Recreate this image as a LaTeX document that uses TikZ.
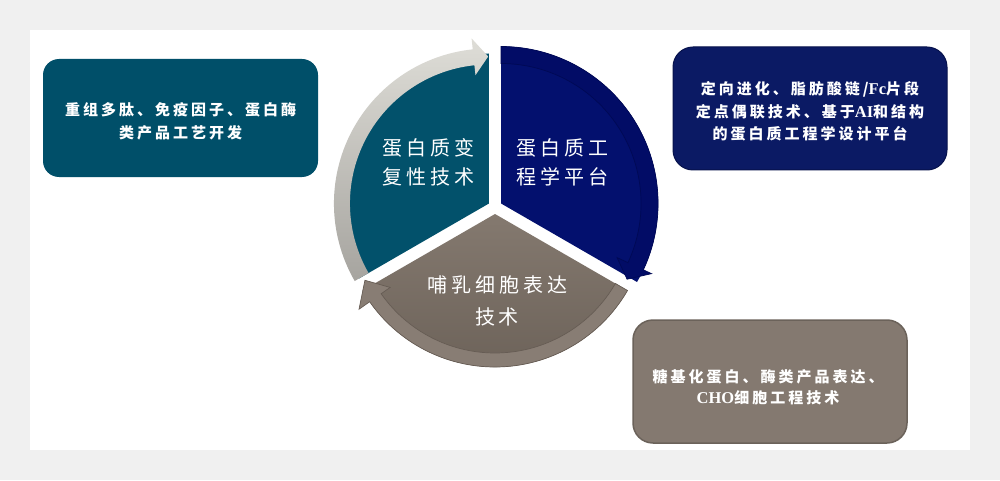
\documentclass[tikz,border=0pt]{standalone}
\usepackage{fontspec}
\newfontfamily\cjk[LetterSpace=20]{Noto Sans CJK SC}
\newfontfamily\ltn{Liberation Serif}
\definecolor{pagebg}{HTML}{F0F0F0}
\definecolor{tealbox}{HTML}{004F69}
\definecolor{tealw}{HTML}{02516B}
\definecolor{navybox}{HTML}{0B1A64}
\definecolor{navyline}{HTML}{07124C}
\definecolor{navyw}{HTML}{03106E}
\definecolor{navyband}{HTML}{020C66}
\definecolor{navydark}{HTML}{000955}
\definecolor{brownbox}{HTML}{847970}
\definecolor{brownline}{HTML}{6B625A}
\definecolor{brownwtop}{HTML}{84796F}
\definecolor{brownwbot}{HTML}{6A6057}
\definecolor{brownband}{HTML}{887D74}
\definecolor{browndark}{HTML}{665C54}
\definecolor{graytop}{HTML}{DEDDD7}
\definecolor{graybot}{HTML}{A6A49F}
\tikzset{
  boxbase/.style={inner sep=0pt},
  boxtxt/.style={text=white, align=center, inner sep=0pt, font=\cjk\bfseries\fontsize{15}{22.5}\selectfont},
  wedgetxt/.style={text=white, align=center, inner sep=0pt, font=\cjk\fontsize{20}{29}\selectfont},
}
\newcommand\ltnb[1]{{\ltn\bfseries\fontsize{16.5}{22.5}\selectfont #1}}
\begin{document}
\begin{tikzpicture}[x=1pt,y=1pt]
\useasboundingbox (0,0) rectangle (1000,480);
\fill[pagebg] (0,0) rectangle (1000,480);
\fill[white] (30,30) rectangle (970,450);

% side boxes
\node[boxbase, fill=tealbox, rounded corners=16pt, minimum width=275pt, minimum height=118pt] (b1) at (180.5,362) {};
\node[boxtxt] (t1) at ([shift={(0,-3.5)}]b1.center) {重组多肽、免疫因子、蛋白酶\\类产品工艺开发};

\node[boxbase, fill=navybox, draw=navyline, line width=1pt, rounded corners=20pt, minimum width=274pt, minimum height=123pt] (b2) at (810,371.5) {};
\node[boxtxt] (t2) at ([shift={(0,-3)}]b2.center) {定向进化、脂肪酸链/\ltnb{Fc}片段\\定点偶联技术、基于\ltnb{AI}和结构\\的蛋白质工程学设计平台};

\node[boxbase, fill=brownbox, draw=brownline, line width=1.5pt, rounded corners=20pt, minimum width=274pt, minimum height=123pt] (b3) at (770,98.5) {};
\node[boxtxt, font=\cjk\bfseries\fontsize{15}{21}\selectfont] (t3) at ([shift={(-2,-6)}]b3.center) {糖基化蛋白、酶类产品表达、\\\ltnb{CHO}细胞工程技术};

% cycle
\begin{scope}[shift={(495,273)}]
  % teal wedge + gray arrow
  \begin{scope}[shift={(150:7)}]
    \fill[tealw] (0,0) -- (90:150) arc[start angle=90, end angle=210, radius=150] -- cycle;
    \shade[top color=graytop, bottom color=graybot]
      (210:155) arc[start angle=210, end angle=96, radius=155]
      -- (96:166) -- (90.3:147) -- (96:129) -- (96:139)
      arc[start angle=96, end angle=210, radius=139] -- cycle;
  \end{scope}
  % navy wedge + arrow
  \begin{scope}[shift={(30:7)}]
    \fill[navyw] (0,0) -- (90:157) arc[start angle=90, end angle=-30, radius=157] -- cycle;
    \filldraw[fill=navyband, draw=navydark, line width=0.7pt]
      (90:157) arc[start angle=90, end angle=-25, radius=157]
      -- (-25:166) -- (-31:147) -- (-25:128) -- (-25:140)
      arc[start angle=-25, end angle=90, radius=140] -- cycle;
  \end{scope}
  % brown wedge + arrow
  \begin{scope}[shift={(270:7)}]
    \shade[top color=brownwtop, bottom color=brownwbot] (0,0) -- (210:153) arc[start angle=210, end angle=330, radius=153] -- cycle;
    \filldraw[fill=brownband, draw=browndark, line width=0.7pt]
      (330:153) arc[start angle=330, end angle=215, radius=153]
      -- (215:166) -- (207:146) -- (215:128) -- (215:139)
      arc[start angle=215, end angle=330, radius=139] -- cycle;
  \end{scope}
\end{scope}

\node[wedgetxt] (w1) at (428,317.5) {蛋白质变\\复性技术};
\node[wedgetxt] (w2) at (562,317.5) {蛋白质工\\程学平台};
\node[wedgetxt, font=\cjk\fontsize{20}{32}\selectfont] (w3) at (497,179) {哺乳细胞表达\\技术};
\end{tikzpicture}
\end{document}
